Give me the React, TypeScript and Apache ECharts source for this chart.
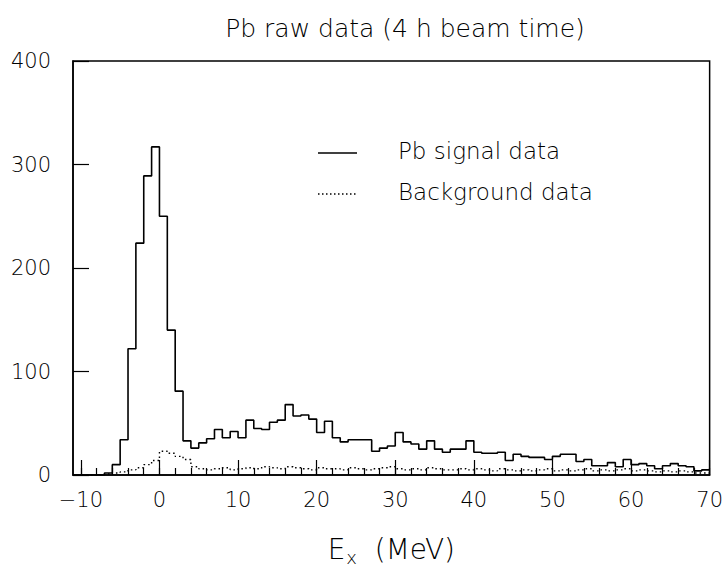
import React, { useEffect, useRef } from "react";
import * as echarts from "echarts";

// Bin lower edges run from -11 MeV to 69 MeV, 1 MeV wide
const binStart = -11;
const binWidth = 1;
const signalCounts = [
  0, 0, 0, 0, 2, 10, 34, 122, 224, 289, 317,
  250, 140, 81, 33, 26, 31, 35, 44, 36, 42,
  36, 53, 45, 44, 51, 53, 68, 57, 58, 54,
  41, 52, 36, 32, 34, 34, 34, 23, 26, 28,
  41, 32, 30, 25, 33, 25, 22, 25, 25, 33,
  22, 21, 21, 22, 14, 20, 18, 17, 17, 15,
  18, 20, 20, 13, 15, 9, 9, 12, 8, 15,
  10, 11, 9, 6, 9, 11, 9, 8, 4, 5,
];
const backgroundCounts = [
  0, 0, 0, 0, 1, 2, 3, 5, 7, 10, 14,
  23, 21, 18, 15, 8, 6, 5, 6, 7, 5,
  6, 7, 6, 8, 7, 6, 8, 7, 6, 5,
  7, 6, 6, 5, 7, 6, 5, 6, 7, 8,
  6, 5, 6, 5, 7, 6, 5, 5, 6, 5,
  6, 5, 4, 6, 5, 4, 5, 4, 5, 6,
  4, 5, 4, 5, 6, 4, 5, 4, 5, 6,
  4, 5, 4, 3, 4, 3, 4, 3, 2, 2,
];
const xMajorTicks = [-10, 0, 10, 20, 30, 40, 50, 60, 70];
const xMinorTicks = [
  -10, -8, -6, -4, -2, 0, 2, 4, 6, 8, 10, 12, 14, 16, 18, 20, 22, 24, 26, 28,
  30, 32, 34, 36, 38, 40, 42, 44, 46, 48, 50, 52, 54, 56, 58, 60, 62, 64, 66,
  68, 70,
];
const titleText = "Pb raw data (4 h beam time)";
const legendNames = ["Pb signal data", "Background data"];

function toSteps(counts: number[]) {
  const pts: [number, number][] = counts.map((c, i) => [binStart + i * binWidth, c]);
  pts.push([binStart + counts.length * binWidth, counts[counts.length - 1]]);
  return pts;
}

const FONT = "DejaVu Sans";
const W = 200;

export default function App() {
  const ref = useRef<HTMLDivElement>(null);
  useEffect(() => {
    if (!ref.current) return;
    const chart = echarts.init(ref.current, undefined, { renderer: "svg" });
    const L = 73, R = 711, T = 61, B = 487;
    chart.setOption({
      animation: false,
      backgroundColor: "#fff",
      textStyle: { fontFamily: FONT, fontWeight: W },
      title: {
        text: titleText,
        left: 400,
        textAlign: "center",
        top: 11,
        textStyle: { fontFamily: FONT, fontWeight: W, fontSize: 25, color: "#000" },
      },
      grid: {
        left: L,
        right: 726 - R,
        top: T,
        bottom: 571 - B,
        show: true,
        borderColor: "#000",
        borderWidth: 1.5,
        backgroundColor: "transparent",
      },
      xAxis: [
        {
          type: "value",
          min: -11,
          max: 70,
          position: "bottom",
          axisLine: { show: true, onZero: false, lineStyle: { color: "#000", width: 1.5 } },
          axisTick: {
            show: true,
            inside: true,
            length: 15,
            customValues: xMajorTicks,
            lineStyle: { color: "#000", width: 1.2 },
          },
          axisLabel: {
            show: true,
            customValues: xMajorTicks,
            margin: 14,
            fontSize: 21,
            fontFamily: FONT,
            fontWeight: W,
            color: "#000",
            formatter: (v: number) => (v < 0 ? "\u2212" + Math.abs(v) : String(v)),
          },
          splitLine: { show: false },
          name: "{a|E}{b|x}{a|  (MeV)}",
          nameLocation: "middle",
          nameGap: 58,
          nameTextStyle: {
            rich: {
              a: { fontSize: 28, fontFamily: FONT, fontWeight: W, color: "#000" },
              b: { fontSize: 18, fontFamily: FONT, fontWeight: W, color: "#000", padding: [15, 0, 0, 1] },
            },
          },
        },
        {
          type: "value",
          min: -11,
          max: 70,
          position: "bottom",
          axisLine: { show: false, onZero: false },
          axisTick: {
            show: true,
            inside: true,
            length: 7,
            customValues: xMinorTicks,
            lineStyle: { color: "#000", width: 1.2 },
          },
          axisLabel: { show: false },
          splitLine: { show: false },
        },
      ],
      yAxis: {
        type: "value",
        min: 0,
        max: 400,
        interval: 100,
        axisLine: { show: true, onZero: false, lineStyle: { color: "#000", width: 1.5 } },
        axisTick: { show: true, inside: true, length: 16, lineStyle: { color: "#000", width: 1.2 } },
        axisLabel: {
          margin: 22,
          fontSize: 21,
          fontFamily: FONT,
          fontWeight: W,
          color: "#000",
        },
        splitLine: { show: false },
      },
      series: [
        {
          name: legendNames[0],
          type: "line",
          step: "end",
          xAxisIndex: 0,
          data: toSteps(signalCounts),
          symbol: "none",
          lineStyle: { color: "#000", width: 1.6 },
          z: 3,
        },
        {
          name: legendNames[1],
          type: "line",
          step: "end",
          xAxisIndex: 0,
          data: toSteps(backgroundCounts),
          symbol: "none",
          lineStyle: { color: "#000", width: 1.4, type: [1.5, 3] },
          z: 2,
        },
      ],
      graphic: [
        { type: "line", shape: { x1: 318, y1: 153, x2: 357, y2: 153 }, style: { stroke: "#000", lineWidth: 1.3 } },
        {
          type: "text",
          x: 398,
          y: 151,
          style: { text: legendNames[0], font: `${W} 23px "${FONT}"`, fill: "#000", verticalAlign: "middle" },
        },
        { type: "line", shape: { x1: 318, y1: 194, x2: 357, y2: 194 }, style: { stroke: "#000", lineWidth: 1.3, lineDash: [1.5, 2.5] } },
        {
          type: "text",
          x: 398,
          y: 192,
          style: { text: legendNames[1], font: `${W} 23px "${FONT}"`, fill: "#000", verticalAlign: "middle" },
        },
      ],
    });
    return () => chart.dispose();
  }, []);
  return (
    <div
      ref={ref}
      style={{ position: "fixed", left: 0, top: 0, width: 726, height: 571, background: "#fff" }}
    />
  );
}
